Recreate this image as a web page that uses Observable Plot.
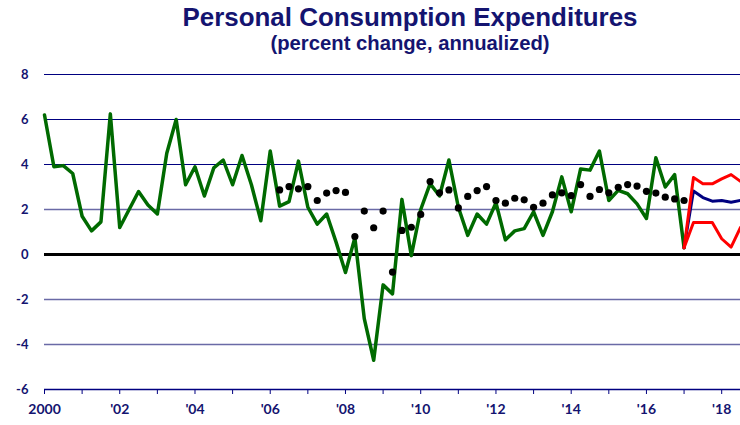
<!DOCTYPE html>
<html>
<head>
<meta charset="utf-8">
<script src="https://cdn.jsdelivr.net/npm/d3@7"></script>
<script src="https://cdn.jsdelivr.net/npm/@observablehq/plot@0.6"></script>
<style>
  html, body { margin: 0; padding: 0; background: white; }
  #wrap { width: 740px; height: 425px; overflow: hidden; position: relative; }
  #head { display: block; }
</style>
</head>
<body>
<div id="wrap">
  <svg id="head" width="740" height="60">
    <text x="410" y="26" text-anchor="middle" font-family="Liberation Sans, Arial, sans-serif" font-weight="bold" font-size="26" fill="#141470" textLength="455" lengthAdjust="spacingAndGlyphs">Personal Consumption Expenditures</text>
    <text x="410" y="50" text-anchor="middle" font-family="Liberation Sans, Arial, sans-serif" font-weight="bold" font-size="20" fill="#141470" textLength="279" lengthAdjust="spacingAndGlyphs">(percent change, annualized)</text>
  </svg>
  <div id="chart"></div>
</div>
<script>
// ---- Data (quarterly, percent change annualized) ----
const startYear = 2000;

// Actual PCE growth, 2000Q1 .. 2017Q1
const actual = [
  6.2, 3.9, 3.95, 3.6,
  1.7, 1.05, 1.45, 6.25,
  1.2, 2.0, 2.8, 2.2,
  1.8, 4.5, 6.0, 3.1,
  3.9, 2.6, 3.85, 4.2,
  3.1, 4.4, 3.1, 1.5,
  4.6, 2.15, 2.35, 4.15,
  2.1, 1.35, 1.8, 0.55,
  -0.8, 0.75, -2.85, -4.7,
  -1.35, -1.75, 2.45, -0.05,
  2.0, 3.15, 2.6, 4.2,
  2.1, 0.85, 1.8, 1.35,
  2.3, 0.65, 1.05, 1.15,
  1.9, 0.85, 1.9, 3.45,
  1.9, 3.8, 3.75, 4.6,
  2.4, 2.85, 2.7, 2.25,
  1.6, 4.3, 3.0, 3.55,
  0.3
];

// Dotted series, 2006Q2 .. 2017Q1
const dotsStart = 2006.25;
const dots = [
  2.87, 3.02, 2.92,
  3.02, 2.4, 2.73, 2.84,
  2.76, 0.8, 1.93, 1.19,
  1.93, -0.78, 1.07, 1.21,
  1.78, 3.24, 2.74, 2.87,
  2.07, 2.58, 2.84, 3.02,
  2.4, 2.28, 2.5, 2.43,
  2.1, 2.28, 2.65, 2.74,
  2.62, 3.11, 2.58, 2.89,
  2.74, 2.99, 3.11, 3.04,
  2.81, 2.73, 2.55, 2.47,
  2.4
];

// Forecast, 2017Q1 .. 2018Q3
const fcStart = 2017;
const fcHigh = [0.3, 3.42, 3.14, 3.14, 3.36, 3.55, 3.25];
const fcMid  = [0.3, 2.82, 2.53, 2.37, 2.4, 2.32, 2.4];
const fcLow  = [0.3, 1.42, 1.42, 1.42, 0.7, 0.33, 1.2];

// Axes
const yTicks = [-6, -4, -2, 0, 2, 4, 6, 8];
const gridDark = [8, 6, 4];
const gridLight = [2, -2, -4];
const xTicks = d3.range(2000, 2019);
const xLabels = {2000: "2000", 2002: "'02", 2004: "'04", 2006: "'06", 2008: "'08",
                 2010: "'10", 2012: "'12", 2014: "'14", 2016: "'16", 2018: "'18"};

const toSeries = (arr, t0) => arr.map((v, i) => ({t: t0 + i / 4, v}));

const navy = "#141470";

const chart = Plot.plot({
  width: 740,
  height: 365,
  marginTop: 14,
  marginBottom: 36,
  marginLeft: 44,
  marginRight: 0,
  style: {background: "white", fontFamily: "Lato, 'Open Sans', sans-serif", overflow: "visible"},
  x: {domain: [2000, 2018.5], label: null},
  y: {domain: [-6, 8], label: null},
  marks: [
    Plot.ruleY(gridDark, {stroke: "#000080", strokeWidth: 1}),
    Plot.ruleY(gridLight, {stroke: "#6a6aa6", strokeWidth: 1.5}),
    Plot.ruleY([-6], {stroke: "#000080", strokeWidth: 1.5}),
    Plot.axisX({ticks: xTicks, tickSize: 5, tickPadding: 10, stroke: "#000080", label: null,
      tickFormat: d => xLabels[d] || "", fill: navy, fontWeight: "bold", fontSize: 14}),
    Plot.axisY({ticks: yTicks, tickSize: 0, tickPadding: 16, tickFormat: d => String(d), label: null,
      fill: navy, fontWeight: "bold", fontSize: 13}),
    Plot.ruleY([0], {stroke: "black", strokeWidth: 3}),
    Plot.line(toSeries(actual, startYear), {x: "t", y: "v", stroke: "#006a00", strokeWidth: 3.5}),
    Plot.dot(toSeries(dots, dotsStart), {x: "t", y: "v", r: 3.6, fill: "black"}),
    Plot.line(toSeries(fcMid, fcStart), {x: "t", y: "v", stroke: "#000080", strokeWidth: 3}),
    Plot.line(toSeries(fcHigh, fcStart), {x: "t", y: "v", stroke: "#ff0000", strokeWidth: 3}),
    Plot.line(toSeries(fcLow, fcStart), {x: "t", y: "v", stroke: "#ff0000", strokeWidth: 3})
  ]
});
document.getElementById("chart").appendChild(chart);
</script>
</body>
</html>
